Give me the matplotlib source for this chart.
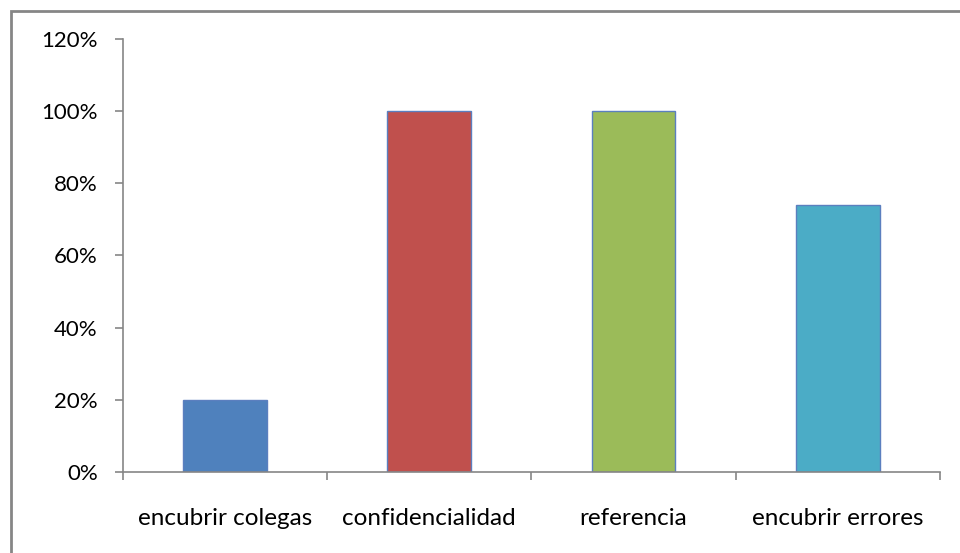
import matplotlib.pyplot as plt
from matplotlib.patches import Rectangle
from matplotlib.ticker import FuncFormatter

categories = ['encubrir colegas', 'confidencialidad', 'referencia', 'encubrir errores']
values = [20, 100, 100, 74]
colors = ['#4F81BD', '#C0504D', '#9BBB59', '#4BACC6']

plt.rcParams['font.family'] = ['Lato', 'DejaVu Sans']

fig = plt.figure(figsize=(9.6, 5.53), dpi=100)
ax = fig.add_axes([0.128, 0.1465, 0.851, 0.7835])

ax.bar(range(len(categories)), values, width=0.41, color=colors,
       edgecolor='#5B7FBF', linewidth=1.0)

ax.set_xlim(-0.5, len(categories) - 0.5)
ax.set_ylim(0, 120)
ax.set_yticks(range(0, 121, 20))
ax.yaxis.set_major_formatter(FuncFormatter(lambda v, p: f'{v:.0f}%'))

# category labels in the middle, tick marks on the boundaries
ax.set_xticks(range(len(categories)))
ax.set_xticklabels(categories)
ax.set_xticks([i - 0.5 for i in range(len(categories) + 1)], minor=True)
ax.tick_params(axis='x', which='major', length=0, pad=26, labelsize=17.5)
ax.tick_params(axis='x', which='minor', length=6, width=1.2, color='#868686', direction='out')
ax.tick_params(axis='y', length=6, width=1.2, color='#868686', pad=12, labelsize=16)

for s in ['top', 'right']:
    ax.spines[s].set_visible(False)
for s in ['left', 'bottom']:
    ax.spines[s].set_color('#868686')
    ax.spines[s].set_linewidth(1.2)

# chart area border
fig.patches.append(Rectangle((10.5 / 960, -0.1), 1.2, 1.1 - 10.5 / 553,
                             transform=fig.transFigure, fill=False,
                             edgecolor='#868686', linewidth=2.0))

fig.savefig('out.png', dpi=100)
